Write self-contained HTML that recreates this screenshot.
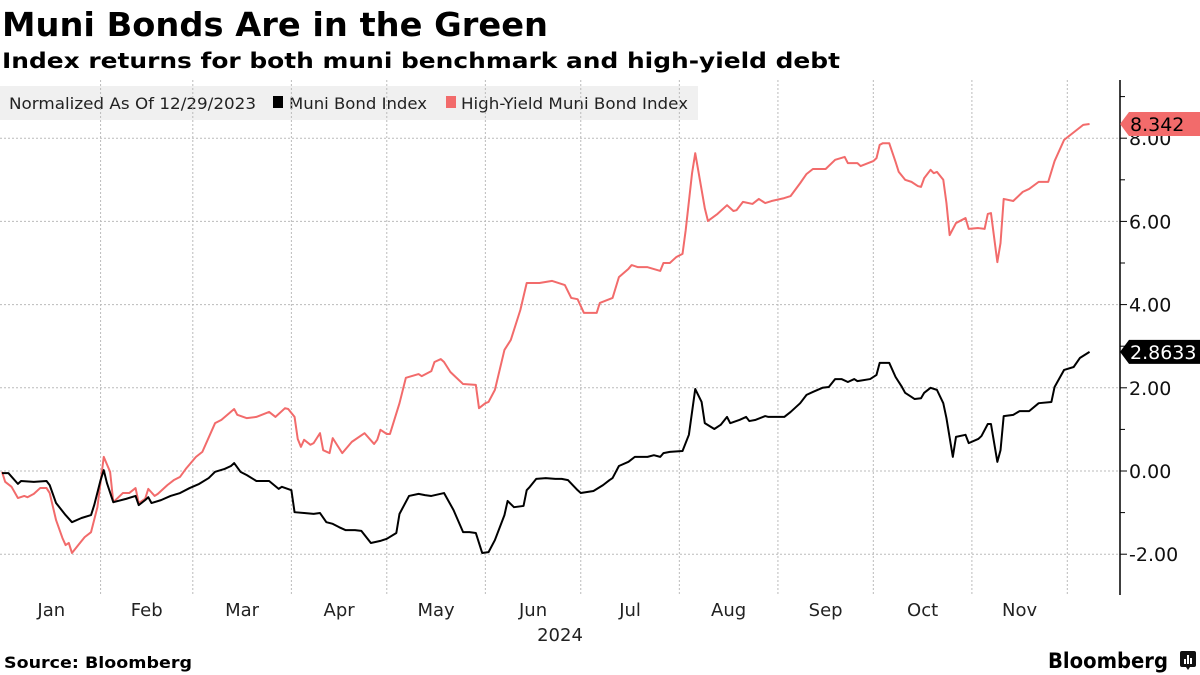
<!DOCTYPE html>
<html><head><meta charset="utf-8"><style>
body{margin:0;background:#fff;width:1200px;height:675px;overflow:hidden;font-family:"DejaVu Sans","Liberation Sans",sans-serif}
svg{position:absolute;left:0;top:0}
</style></head><body>
<svg id="c" width="1200" height="675">
<text x="2" y="36" font-size="33" font-weight="bold" fill="#000" textLength="546" lengthAdjust="spacingAndGlyphs">Muni Bonds Are in the Green</text>
<text x="2" y="68" font-size="21" font-weight="bold" fill="#000" textLength="838" lengthAdjust="spacingAndGlyphs">Index returns for both muni benchmark and high-yield debt</text>
<rect x="0" y="86" width="698" height="34" fill="#f0f0f0"/>
<text x="9" y="109" font-size="16" fill="#222" textLength="247" lengthAdjust="spacingAndGlyphs">Normalized As Of 12/29/2023</text>
<rect x="273" y="96" width="10" height="12" fill="#000"/>
<text x="289" y="109" font-size="16" fill="#222" textLength="138" lengthAdjust="spacingAndGlyphs">Muni Bond Index</text>
<rect x="446" y="96" width="10" height="12" fill="#f26b6b"/>
<text x="461" y="109" font-size="16" fill="#222" textLength="227" lengthAdjust="spacingAndGlyphs">High-Yield Muni Bond Index</text>
<g id="grid"></g><g id="series"></g><g id="axis"></g>
<text x="560" y="641" font-size="18" text-anchor="middle" fill="#222">2024</text>
<text x="4" y="668" font-size="16" font-weight="bold" fill="#000" textLength="188" lengthAdjust="spacingAndGlyphs">Source: Bloomberg</text>
<text x="1048" y="668" font-size="21" font-weight="bold" fill="#000" textLength="120" lengthAdjust="spacingAndGlyphs">Bloomberg</text>
<g>
<rect x="1180" y="651" width="16" height="16" rx="2" fill="#111"/>
<polygon points="1186,667 1190,667 1188,670" fill="#111"/>
<rect x="1184" y="659" width="2" height="5" fill="#fff"/><rect x="1187" y="655" width="2" height="9" fill="#fff"/><rect x="1190" y="658" width="2" height="6" fill="#fff"/>
</g>
</svg>
<script>
const monthLabels=["Jan","Feb","Mar","Apr","May","Jun","Jul","Aug","Sep","Oct","Nov"];
const monthStarts=[0,31,60,91,121,152,182,213,244,274,305,335];
const yTicks=[-2,0,2,4,6,8];
const yMinor=[-3,-1,1,3,5,7,9];
const muniDays=[0,2,5,6,10,14,15,17,20,22,25,28,29,31,32,33,35,39,42,43,45,46,47,50,53,56,59,62,65,67,70,72,73,75,77,80,84,87,88,91,92,95,98,100,102,104,106,108,111,113,116,119,121,124,125,128,131,133,135,139,142,145,147,149,151,153,155,158,159,161,164,165,166,168,171,174,176,178,181,182,186,189,191,192,194,197,199,203,205,207,208,210,214,216,218,220,221,224,226,228,229,232,234,235,237,240,241,246,248,251,253,255,258,260,262,264,266,268,269,273,275,276,279,281,283,284,286,287,289,290,292,294,296,297,299,300,303,304,307,308,310,311,313,314,315,318,320,323,326,330,331,334,337,339,342];
const muniVals=[-0.05,-0.05,-0.31,-0.24,-0.26,-0.24,-0.34,-0.77,-1.06,-1.23,-1.13,-1.06,-0.82,-0.22,0.02,-0.29,-0.75,-0.67,-0.6,-0.82,-0.7,-0.63,-0.77,-0.7,-0.6,-0.53,-0.41,-0.31,-0.17,-0.02,0.05,0.12,0.19,-0.02,-0.1,-0.24,-0.24,-0.43,-0.38,-0.46,-0.99,-1.01,-1.03,-1.01,-1.23,-1.27,-1.35,-1.42,-1.42,-1.44,-1.73,-1.68,-1.63,-1.49,-1.03,-0.6,-0.55,-0.58,-0.6,-0.53,-0.94,-1.47,-1.47,-1.49,-1.97,-1.95,-1.66,-1.06,-0.72,-0.87,-0.84,-0.46,-0.38,-0.19,-0.17,-0.19,-0.19,-0.22,-0.46,-0.53,-0.48,-0.34,-0.22,-0.17,0.12,0.22,0.34,0.34,0.38,0.34,0.43,0.46,0.48,0.87,1.97,1.66,1.15,1.01,1.11,1.3,1.15,1.23,1.3,1.2,1.23,1.32,1.3,1.3,1.42,1.63,1.83,1.9,2.0,2.02,2.21,2.21,2.14,2.21,2.16,2.21,2.31,2.6,2.6,2.26,2.02,1.88,1.78,1.73,1.75,1.88,2.0,1.95,1.63,1.27,0.34,0.82,0.87,0.67,0.77,0.84,1.13,1.13,0.22,0.5,1.32,1.35,1.44,1.44,1.63,1.66,2.02,2.43,2.5,2.72,2.8633];
const hyDays=[0,1,3,5,7,8,10,12,14,15,17,19,20,21,22,24,26,28,30,32,34,35,38,40,42,43,45,46,48,49,52,54,56,58,61,63,67,69,73,74,77,80,84,86,89,90,92,93,94,95,97,98,100,101,103,104,107,110,114,117,118,119,121,122,125,127,131,132,135,136,138,139,141,145,149,150,152,153,155,158,160,163,165,169,173,177,179,181,183,187,188,192,194,197,198,200,203,207,208,210,212,214,215,217,218,221,222,225,228,230,231,233,236,238,240,242,246,248,251,253,255,259,262,265,266,269,270,274,275,276,277,279,281,282,284,286,288,289,290,292,293,294,296,297,298,300,303,304,307,309,310,311,313,314,315,318,321,323,326,329,331,334,338,340,342];
const hyVals=[-0.02,-0.26,-0.38,-0.65,-0.6,-0.63,-0.55,-0.41,-0.41,-0.53,-1.18,-1.61,-1.78,-1.73,-1.97,-1.78,-1.59,-1.47,-0.87,0.34,-0.02,-0.75,-0.53,-0.53,-0.41,-0.77,-0.67,-0.43,-0.6,-0.55,-0.34,-0.22,-0.14,0.07,0.34,0.46,1.15,1.23,1.49,1.35,1.27,1.3,1.42,1.3,1.51,1.49,1.3,0.77,0.58,0.75,0.63,0.67,0.91,0.5,0.43,0.79,0.43,0.7,0.91,0.65,0.75,0.99,0.89,0.89,1.63,2.24,2.33,2.28,2.4,2.62,2.69,2.62,2.38,2.09,2.07,1.51,1.63,1.66,1.95,2.91,3.15,3.87,4.52,4.52,4.57,4.47,4.16,4.13,3.8,3.8,4.04,4.16,4.66,4.86,4.95,4.9,4.9,4.81,5.0,5.0,5.14,5.22,5.79,7.16,7.64,6.32,6.01,6.18,6.39,6.25,6.27,6.47,6.42,6.54,6.44,6.49,6.56,6.61,6.92,7.14,7.26,7.26,7.48,7.55,7.4,7.4,7.33,7.45,7.52,7.84,7.88,7.88,7.43,7.19,7.0,6.95,6.85,6.83,7.04,7.24,7.16,7.19,7.0,6.44,5.67,5.96,6.08,5.82,5.84,5.82,6.18,6.2,5.02,5.48,6.54,6.49,6.71,6.78,6.95,6.95,7.45,7.96,8.2,8.32,8.342];
const NS='http://www.w3.org/2000/svg';
const X0=2,XD=3.18,Y0=471,YU=41.6,AX=1120;
const xs=d=>X0+d*XD, ys=v=>Y0-v*YU;
function mk(t,a,p){const e=document.createElementNS(NS,t);for(const k in a)e.setAttribute(k,a[k]);p.appendChild(e);return e;}
const grid=document.getElementById('grid'),ser=document.getElementById('series'),ax=document.getElementById('axis');
yTicks.forEach(v=>{
 const l=mk('line',{x1:0,x2:AX,y1:ys(v),y2:ys(v),stroke:'#bbb','stroke-dasharray':'2,2','stroke-width':1},grid);
 
 
 const t=mk('line',{x1:AX,x2:AX+7,y1:ys(v),y2:ys(v),stroke:'#000'},ax);
 
 
 const tx=mk('text',{x:AX+9,y:ys(v)+7,'font-size':19,fill:'#111'},ax);
 tx.textContent=v.toFixed(2);
 
 
});
yMinor.forEach(v=>{const y=ys(v);if(y<85||y>595)return;
 const t=mk('line',{x1:AX,x2:AX+5,y1:y,y2:y,stroke:'#000'},ax);
 
 });
monthStarts.forEach(d=>{if(d===0)return;
 const l=mk('line',{x1:xs(d),x2:xs(d),y1:80,y2:595,stroke:'#bbb','stroke-dasharray':'2,2'},grid);
 
 });
monthLabels.forEach((m,i)=>{
 const t=mk('text',{x:(xs(monthStarts[i])+xs(monthStarts[i+1]))/2,y:616,'font-size':18,'text-anchor':'middle',fill:'#222'},ax);
 t.textContent=m;
 
 });
const axl=mk('line',{x1:AX,x2:AX,y1:80,y2:595,stroke:'#000','stroke-width':1.5},ax);


function line(days,vals,col,name){
 const p=mk('polyline',{points:days.map((d,i)=>xs(d)+','+ys(vals[i])).join(' '),fill:'none',stroke:col,'stroke-width':2,'stroke-linejoin':'round'},ser);
 
 }
line(hyDays,hyVals,'#f26b6b','high-yield-line');
line(muniDays,muniVals,'#000','muni-line');
function tag(v,txt,bg,fg,name){const y=ys(v);
 const g=mk('g',{},ax);
 
 
 mk('polygon',{points:`${AX},${y} ${AX+9},${y-12} 1200,${y-12} 1200,${y+12} ${AX+9},${y+12}`,fill:bg},g);
 const t=mk('text',{x:AX+10,y:y+7,'font-size':19,fill:fg},g);t.textContent=txt;}
tag(hyVals[hyVals.length-1],'8.342','#f26b6b','#000','high-yield-last-value');
tag(muniVals[muniVals.length-1],'2.8633','#000','#fff','muni-last-value');
</script>
</body></html>
